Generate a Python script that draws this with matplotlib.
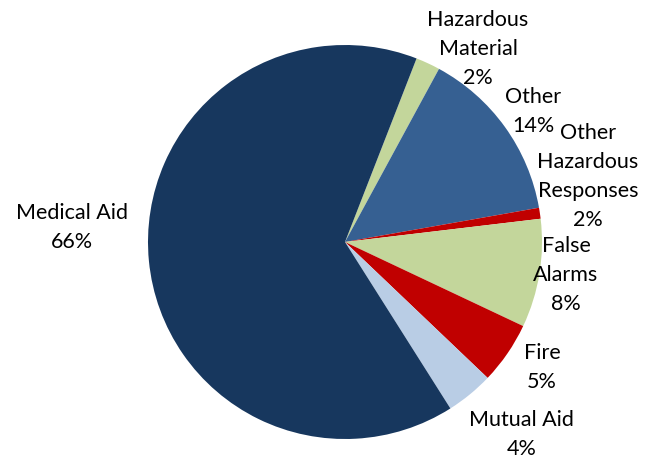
import matplotlib
matplotlib.use("Agg")
import matplotlib.pyplot as plt

categories = ["Hazardous\nMaterial", "Other", "Other\nHazardous\nResponses",
              "False\nAlarms", "Fire", "Mutual Aid", "Medical Aid"]
values = [2.0, 14.3, 0.9, 8.9, 5.1, 3.9, 64.9]
pct_labels = ["2%", "14%", "2%", "8%", "5%", "4%", "66%"]
colors = ["#C3D69B", "#366092", "#C00000", "#C3D69B", "#C00000", "#B9CDE5", "#17375E"]

# label placement (data coords relative to pie of radius 1)
label_pos = [(0.675, 0.980), (0.955, 0.660), (1.233, 0.335), (1.122, -0.168),
             (1.000, -0.635), (0.898, -0.975), (-1.386, 0.076)]

plt.rcParams['font.family'] = ['Lato', 'DejaVu Sans']

W, H = 654, 459
fig = plt.figure(figsize=(W / 100, H / 100), dpi=100)
cx, cy, r = 345, 242, 197
ax = fig.add_axes([(cx - r) / W, (H - cy - r) / H, 2 * r / W, 2 * r / H])
ax.pie(values, colors=colors, startangle=90 - 21.3, counterclock=False,
       radius=1, wedgeprops=dict(linewidth=0))
ax.set_xlim(-1, 1)
ax.set_ylim(-1, 1)
ax.set_aspect('equal')
ax.axis('off')

line_step = 29 / r  # distance between label lines in data units
for cat, pct, (x, y) in zip(categories, pct_labels, label_pos):
    lines = cat.split("\n") + [pct]
    n = len(lines)
    for i, line in enumerate(lines):
        ly = y + ((n - 1) / 2 - i) * line_step
        ax.text(x, ly, line, ha='center', va='center', fontsize=15.5,
                color='#000000', clip_on=False)

fig.savefig("out.png", dpi=100)
